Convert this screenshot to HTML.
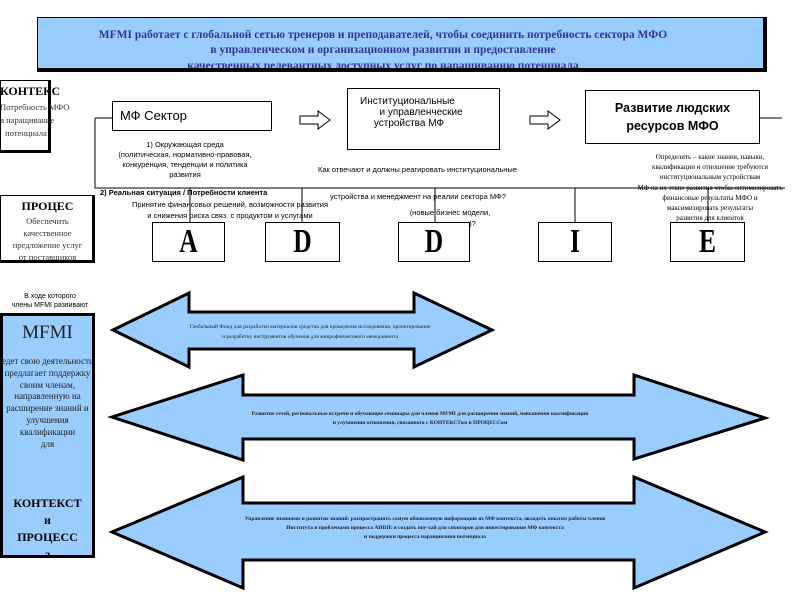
<!DOCTYPE html>
<html><head><meta charset="utf-8"><style>
body{margin:0;width:800px;height:600px;position:relative;background:#fff;overflow:hidden;font-family:"Liberation Serif","DejaVu Serif",serif;color:#000}
.a{position:absolute;white-space:nowrap}
.c{text-align:center}
.box{position:absolute;border:1px solid #000;background:#fff;box-sizing:border-box}
.s{font-family:"Liberation Sans","DejaVu Sans",sans-serif}
.L{position:absolute;font-size:34px;font-weight:bold;text-align:center;line-height:40px;transform:scaleX(0.75)}
</style></head><body>
<div style="position:absolute;left:37px;top:17px;width:730px;height:55px;background:#99ccff;border:1px solid #000;border-right:4px solid #000;border-bottom:4px solid #000;box-sizing:border-box;overflow:hidden">
<div class="a c" style="left:0;width:690px;top:11px;font-size:11.5px;font-weight:bold;color:#333399">MFMI работает с глобальной сетью тренеров и преподавателей, чтобы соединить потребность сектора МФО</div>
<div class="a c" style="left:0;width:690px;top:26px;font-size:11.5px;font-weight:bold;color:#333399">в управленческом и организационном развитии и предоставление</div>
<div class="a c" style="left:0;width:690px;top:42px;font-size:11.5px;font-weight:bold;color:#333399;text-decoration:underline">качественных релевантных доступных услуг по наращиванию потенциала</div>
</div>

<div class="box" style="left:0;top:80px;width:51px;height:73px;border:1px solid #000;border-right:3px solid #000;border-bottom:3px solid #000"></div>
<div class="a c" style="left:0;width:52px;top:84px;font-size:12px;font-weight:bold">КОНТЕКС</div>
<div class="a c" style="left:0;width:52px;top:101px;font-size:8.5px;line-height:13px;color:#333">Потребность МФО<br>в наращивание<br>потенциала</div>

<svg width="800" height="600" style="position:absolute;left:0;top:0">
<g stroke="#000" stroke-width="1" fill="#fff">
<path d="M95 118 H112 M95 118 V188 H785 M760 118 H782"/>
<path d="M190 188V222 M302 188V222 M435 188V222 M575 188V222 M708 188V222"/>
<path d="M300 116 H318 V111 L330 120 L318 129 V124 H300 Z"/>
<path d="M530 116 H548 V111 L560 120 L548 129 V124 H530 Z"/>
</g>
<g stroke="#000" stroke-width="3" fill="#99ccff">
<path d="M113 330 L189 293 V312 H414 V293 L492 330 L414 367 V349 H189 V367 Z"/>
<path d="M112 417 L243 375 V395 H634 V375 L765 418 L634 459 V439 H243 V460 Z"/>
<path d="M112 532 L243 477 V503 H634 V477 L765 532 L634 588 V560 H243 V588 Z"/>
</g>
</svg>

<div class="box" style="left:112px;top:101px;width:160px;height:30px"></div>
<div class="a s" style="left:120px;top:108px;font-size:13px">МФ Сектор</div>
<div class="box" style="left:347px;top:88px;width:153px;height:62px"></div>
<div class="a s" style="left:360px;top:96px;font-size:10px;line-height:11px">Институциональные<br>&nbsp;&nbsp;&nbsp;&nbsp;&nbsp;&nbsp;&nbsp;и управленческие<br>&nbsp;&nbsp;&nbsp;&nbsp;&nbsp;устройства МФ</div>
<div class="box" style="left:585px;top:90px;width:175px;height:54px"></div>
<div class="a c s" style="left:585px;width:175px;top:99px;font-size:12.5px;font-weight:bold;line-height:18px">Развитие людских<br>ресурсов МФО</div>

<div class="a c s" style="left:85px;width:200px;top:140px;font-size:7.5px;line-height:10px">1) Окружающая среда<br>(политическая, нормативно-правовая,<br>конкуренция, тенденции и политика<br>развития</div>
<div class="a s" style="left:100px;top:188px;font-size:7.5px;font-weight:bold">2) Реальная ситуация / Потребности клиента</div>
<div class="a c s" style="left:120px;width:220px;top:199px;font-size:7.5px;line-height:11px">Принятие финансовых решений, возможности развития<br>и снижения риска связ. с продуктом и услугами</div>
<div class="a s" style="left:318px;top:165px;font-size:7.5px">Как отвечают и должны реагировать институциональные</div>
<div class="a s" style="left:330px;top:192px;font-size:7.5px">устройства и менеджмент на реалии сектора МФ?</div>
<div class="a c s" style="left:380px;width:140px;top:207px;font-size:7.5px;line-height:11px">(новые бизнес модели,<br>пилоты и т.д.)?</div>
<div class="a c" style="left:600px;width:220px;top:152px;font-size:7px;line-height:10.2px">Определить – какие знания, навыки,<br>квалификации и отношение требуются<br>институциональным устройствам<br>МФ на их этапе развития чтобы оптимизировать<br>финансовые результаты МФО и<br>максимизировать результаты<br>развития для клиентов</div>

<div class="box" style="left:152px;top:222px;width:73px;height:40px"></div><div class="L" style="left:152px;top:222px;width:73px">A</div>
<div class="box" style="left:265px;top:222px;width:75px;height:40px"></div><div class="L" style="left:265px;top:222px;width:75px">D</div>
<div class="box" style="left:398px;top:222px;width:72px;height:40px"></div><div class="L" style="left:398px;top:222px;width:72px">D</div>
<div class="box" style="left:538px;top:222px;width:74px;height:40px"></div><div class="L" style="left:538px;top:222px;width:74px">I</div>
<div class="box" style="left:670px;top:222px;width:75px;height:40px"></div><div class="L" style="left:670px;top:222px;width:75px">E</div>

<div class="box" style="left:0;top:195px;width:95px;height:68px;border-right:3px solid #000;border-bottom:3px solid #000"></div>
<div class="a c" style="left:0;width:95px;top:199px;font-size:12px;font-weight:bold">ПРОЦЕС</div>
<div class="a c" style="left:0;width:95px;top:215px;font-size:8.5px;line-height:12px;color:#333">Обеспечить<br>качественное<br>предложение услуг<br>от поставщиков</div>

<div class="a c s" style="left:0;width:100px;top:292px;font-size:7px;line-height:9px">В ходе которого<br>члены MFMI развивают</div>
<div class="a c s" style="left:0;width:95px;top:319px;font-size:7px">потенциал</div>
<div style="position:absolute;left:0;top:313px;width:95px;height:245px;background:#99ccff;border:3px solid #000;box-sizing:border-box"></div>
<div class="a c" style="left:0;width:95px;top:322px;font-size:19px;color:#222">MFMI</div>
<div class="a c" style="left:-5px;width:105px;top:356px;font-size:9px;line-height:11.8px;color:#222">едет свою деятельность<br>предлагает поддержку<br>своим членам,<br>направленную на<br>расширение знаний и<br>улучшения<br>квалификации<br>для</div>
<div class="a c" style="left:0;width:95px;top:495px;font-size:12px;font-weight:bold;line-height:17px">КОНТЕКСТ<br>и<br>ПРОЦЕСС<br>а</div>

<div class="a c" style="left:130px;width:360px;top:322px;font-size:5.5px;line-height:10px;color:#222">Глобальный Фонд для разработки материалов средства для проведения исследования, проектирование<br>и разработку инструментов обучения для микрофинансового менеджмента</div>
<div class="a c" style="left:160px;width:520px;top:410px;font-size:5.5px;line-height:9px;font-weight:bold;color:#222">Развитие сетей, региональные встречи и обучающие семинары для членов MFMI для расширения знаний, повышения квалификации<br>и улучшения отношения, связанного с КОНТЕКСТом и ПРОЦЕССом</div>
<div class="a c" style="left:160px;width:530px;top:515px;font-size:5.5px;line-height:9px;font-weight:bold;color:#222">Управление знаниями и развитие знаний: распространить самую обновленную информацию из МФ контекста, овладеть опытом работы членов<br>Института и проблемами процесса ADDIE и создать ноу-хай для спонсоров для инвестирования МФ контекста<br>и поддержки процесса наращивания потенциала</div>
</body></html>
